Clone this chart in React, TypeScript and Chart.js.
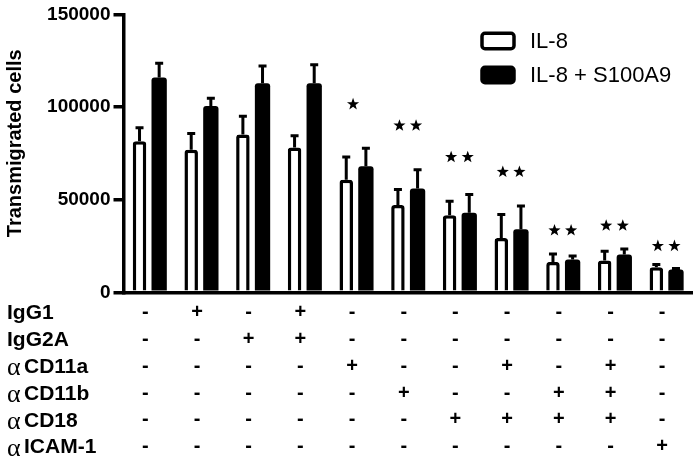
import React, { useEffect, useRef } from "react";
import { Chart, registerables } from "chart.js";

Chart.register(...registerables);

// ---- data ----
const seriesLabels = ["IL-8", "IL-8 + S100A9"];
const il8 = [81500, 77000, 85200, 78200, 60700, 47100, 41600, 29300, 16400, 17100, 13500];
const il8Err = [7300, 8700, 9800, 6300, 12300, 8400, 7500, 12700, 4300, 5000, 1500];
const il8S100 = [116000, 100500, 112800, 112800, 68000, 56000, 43000, 34000, 17700, 20400, 12300];
const il8S100Err = [7600, 4300, 9400, 10000, 9700, 10200, 9800, 12600, 1900, 3000, 600];
const starCounts = [0, 0, 0, 0, 1, 2, 2, 2, 2, 2, 2];
const starLevels = [0, 0, 0, 0, 101500, 90000, 73000, 65000, 33400, 36000, 25000];
const yTicks = [0, 50000, 100000, 150000];
const yTitle = "Transmigrated cells";
const rowLabels = ["IgG1", "IgG2A", "αCD11a", "αCD11b", "αCD18", "αICAM-1"];
const rowIgG1 = ["-", "+", "-", "+", "-", "-", "-", "-", "-", "-", "-"];
const rowIgG2A = ["-", "-", "+", "+", "-", "-", "-", "-", "-", "-", "-"];
const rowCD11a = ["-", "-", "-", "-", "+", "-", "-", "+", "-", "+", "-"];
const rowCD11b = ["-", "-", "-", "-", "-", "+", "-", "-", "+", "+", "-"];
const rowCD18 = ["-", "-", "-", "-", "-", "-", "+", "+", "+", "+", "-"];
const rowICAM = ["-", "-", "-", "-", "-", "-", "-", "-", "-", "-", "+"];
const tableRows = [rowIgG1, rowIgG2A, rowCD11a, rowCD11b, rowCD18, rowICAM];

const FONT = "'Liberation Sans', Arial, Helvetica, sans-serif";
const ROW_LH = 26.8;
const TICK_PAD = 7;

const columnLabels = rowIgG1.map((_, i) => tableRows.map((r) => r[i]));

function drawStar(ctx: CanvasRenderingContext2D, cx: number, cy: number, R: number, r: number) {
  ctx.beginPath();
  for (let i = 0; i < 10; i++) {
    const rad = i % 2 === 0 ? R : r;
    const a = -Math.PI / 2 + (i * Math.PI) / 5;
    const px = cx + rad * Math.cos(a);
    const py = cy + rad * Math.sin(a);
    if (i === 0) ctx.moveTo(px, py);
    else ctx.lineTo(px, py);
  }
  ctx.closePath();
  ctx.fill();
}

const annotations = {
  id: "annotations",
  afterDatasetsDraw(chart: any) {
    const ctx: CanvasRenderingContext2D = chart.ctx;
    const y = chart.scales.y;
    const x = chart.scales.x;
    const errs = [il8Err, il8S100Err];
    ctx.save();
    ctx.strokeStyle = "#000";
    ctx.fillStyle = "#000";
    ctx.lineWidth = 3;
    chart.data.datasets.forEach((ds: any, di: number) => {
      const meta = chart.getDatasetMeta(di);
      meta.data.forEach((el: any, i: number) => {
        const top = y.getPixelForValue(ds.data[i] + errs[di][i]);
        ctx.beginPath();
        ctx.moveTo(el.x, el.y);
        ctx.lineTo(el.x, top);
        ctx.moveTo(el.x - 4, top);
        ctx.lineTo(el.x + 4, top);
        ctx.stroke();
      });
    });
    // stars
    starCounts.forEach((n, i) => {
      if (!n) return;
      const cx = x.getPixelForValue(i);
      const cy = y.getPixelForValue(starLevels[i]);
      if (n === 1) drawStar(ctx, cx - 3, cy, 6.4, 2.6);
      else {
        drawStar(ctx, cx - 8.3, cy, 6.4, 2.6);
        drawStar(ctx, cx + 8.3, cy, 6.4, 2.6);
      }
    });
    ctx.restore();
  },
  afterDraw(chart: any) {
    const ctx: CanvasRenderingContext2D = chart.ctx;
    const area = chart.chartArea;
    ctx.save();
    ctx.fillStyle = "#000";
    // y title
    ctx.save();
    ctx.translate(15, 143.3);
    ctx.rotate(-Math.PI / 2);
    ctx.font = `bold 20px ${FONT}`;
    ctx.textAlign = "center";
    ctx.textBaseline = "middle";
    ctx.fillText(yTitle, 0, 0);
    ctx.restore();
    // row labels
    ctx.textBaseline = "middle";
    ctx.textAlign = "left";
    rowLabels.forEach((lab, i) => {
      const ry = area.bottom + TICK_PAD + ROW_LH * (i + 0.5) + 1;
      let tx = 7;
      let text = lab;
      if (lab.startsWith("α")) {
        ctx.font = `26px 'Liberation Serif', serif`;
        ctx.fillText("α", tx, ry + 1);
        tx = 24;
        text = lab.slice(1);
      }
      ctx.font = `bold 21px ${FONT}`;
      ctx.fillText(text, tx, ry);
    });
    // legend
    const boxX = 482;
    const boxW = 32;
    const boxH = 15.5;
    const rows = [41, 75];
    chart.data.datasets.forEach((ds: any, di: number) => {
      const cy = rows[di];
      ctx.beginPath();
      (ctx as any).roundRect(boxX, cy - boxH / 2, boxW, boxH, 3);
      ctx.fillStyle = ds.backgroundColor;
      ctx.fill();
      ctx.lineWidth = 3.5;
      ctx.strokeStyle = "#000";
      ctx.stroke();
      ctx.fillStyle = "#000";
      ctx.font = `22px ${FONT}`;
      ctx.textAlign = "left";
      ctx.textBaseline = "middle";
      ctx.fillText(ds.label, 530, cy + 1);
    });
    ctx.restore();
  },
};

export default function App() {
  const ref = useRef<HTMLCanvasElement | null>(null);
  useEffect(() => {
    if (!ref.current) return;
    const chart = new Chart(ref.current, {
      type: "bar",
      data: {
        labels: columnLabels,
        datasets: [
          {
            label: seriesLabels[0],
            data: il8,
            backgroundColor: "#ffffff",
            borderColor: "#000000",
            borderWidth: 3.5,
            borderRadius: 3,
            maxBarThickness: 13.5,
          },
          {
            label: seriesLabels[1],
            data: il8S100,
            backgroundColor: "#000000",
            borderColor: "#000000",
            borderWidth: 0,
            borderRadius: 3,
          },
        ],
      },
      options: {
        responsive: false,
        animation: false,
        devicePixelRatio: 1,
        categoryPercentage: 0.76,
        barPercentage: 0.78,
        layout: { padding: { top: 12.3, right: 7, left: 0, bottom: 0 } },
        plugins: {
          legend: { display: false },
          tooltip: { enabled: false },
        },
        scales: {
          x: {
            grid: { display: false, drawTicks: false },
            border: { display: true, color: "#000", width: 3.5 },
            ticks: {
              color: "#000",
              padding: TICK_PAD,
              labelOffset: -4,
              maxRotation: 0,
              autoSkip: false,
              font: { family: FONT, size: 20, weight: "bold", lineHeight: ROW_LH / 20 },
            },
            afterFit: (s: any) => {
              s.height = 457 - 292.3;
            },
          },
          y: {
            min: 0,
            max: 150000,
            afterBuildTicks: (s: any) => {
              s.ticks = yTicks.map((v) => ({ value: v }));
            },
            grid: {
              display: true,
              drawOnChartArea: false,
              drawTicks: true,
              tickLength: 10,
              lineWidth: 3.5,
              color: "#000",
            },
            border: { display: true, color: "#000", width: 3.5 },
            ticks: {
              color: "#000",
              padding: 3,
              font: { family: FONT, size: 19, weight: "bold" },
              callback: (v: any) => String(v),
            },
            afterFit: (s: any) => {
              s.width = 123.5;
            },
          },
        },
      },
      plugins: [annotations],
    });
    return () => chart.destroy();
  }, []);
  return (
    <div style={{ position: "fixed", left: 0, top: 0, width: 699, height: 457, background: "#fff" }}>
      <canvas ref={ref} width={699} height={457} style={{ display: "block" }} />
    </div>
  );
}
